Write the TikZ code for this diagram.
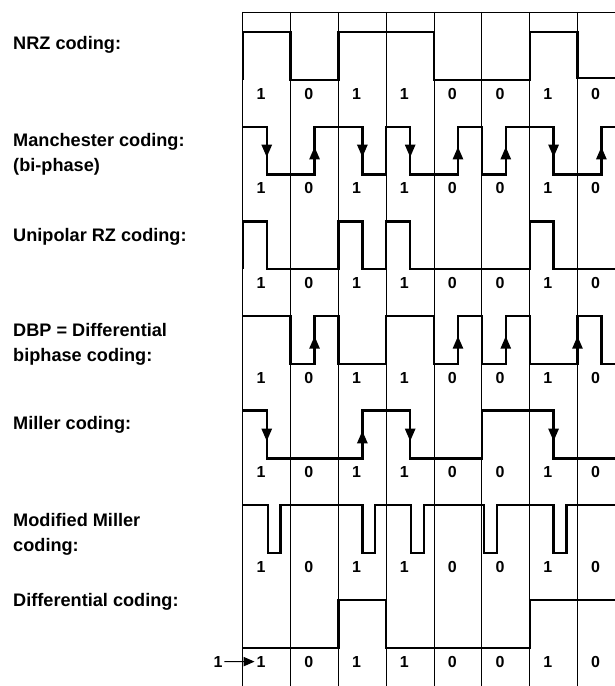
\documentclass[tikz,border=0pt]{standalone}
\usepackage{fontspec}
\setmainfont{Liberation Sans}
\usetikzlibrary{arrows.meta}
\begin{document}
\begin{tikzpicture}[
	sig/.style={line width=1.4pt},
	flow/.style={line width=1.4pt, -{Triangle[length=7.5pt,width=6pt]}},
	cell/.style={line width=0.5pt},
	bitlabel/.style={font=\fontsize{9.5}{10}\selectfont\bfseries, inner sep=1pt},
	codename/.style={anchor=west, align=left, inner sep=0pt,
		font=\fontsize{10.8}{15}\selectfont\bfseries}]
		\useasboundingbox (-5.08,-14.1) rectangle (7.78,0.25);
		%draw bit cells
		\draw [cell] (0,0) -- (7.78,0);
		\foreach \i in {0,...,7}
			\draw [cell] (\i,0) -- (\i,-14.1);
		%draw bit values
		\foreach \r in {0,...,6}
			\foreach \b [count=\i from 0] in {1,0,1,1,0,0,1,0}
				\node [bitlabel] (b\r-\i) at (\i+0.38,-1.71-1.98*\r) {\b};
		%draw codes
		\begin{scope}[yshift=-0.42cm] % NRZ
			\draw [sig] (0,-1) -- (0,0) -- (1,0) -- (1,-1) -- (2,-1) -- (2,0) -- (4,0) -- (4,-1)
				-- (6,-1) -- (6,0) -- (7,0) -- (7,-0.96) -- (7.78,-0.96);
		\end{scope}
		\begin{scope}[yshift=-2.40cm] % Manchester
			\draw [sig] (0,0) -- (0.5,0) -- (0.5,-1) -- (1.5,-1) -- (1.5,0) -- (2.5,0) -- (2.5,-1)
				-- (3,-1) -- (3,0) -- (3.5,0) -- (3.5,-1) -- (4.5,-1) -- (4.5,0) -- (5,0) -- (5,-1)
				-- (5.5,-1) -- (5.5,0) -- (6.5,0) -- (6.5,-1) -- (7.5,-1) -- (7.5,0) -- (7.78,0);
			\foreach \x in {0.5,2.5,3.5,6.5}
				\draw [flow] (\x,0) -- (\x,-0.64);
			\foreach \x in {1.5,4.5,5.5,7.5}
				\draw [flow] (\x,-1) -- (\x,-0.42);
		\end{scope}
		\begin{scope}[yshift=-4.38cm] % unipolar RZ
			\draw [sig] (0,-1) -- (0,0) -- (0.5,0) -- (0.5,-1) -- (2,-1) -- (2,0) -- (2.5,0) -- (2.5,-1)
				-- (3,-1) -- (3,0) -- (3.5,0) -- (3.5,-1) -- (6,-1) -- (6,0) -- (6.5,0) -- (6.5,-1)
				-- (7.78,-1);
		\end{scope}
		\begin{scope}[yshift=-6.36cm] % DBP
			\draw [sig] (0,0) -- (1,0) -- (1,-1) -- (1.5,-1) -- (1.5,0) -- (2,0) -- (2,-1) -- (3,-1)
				-- (3,0) -- (4,0) -- (4,-1) -- (4.5,-1) -- (4.5,0) -- (5,0) -- (5,-1) -- (5.5,-1)
				-- (5.5,0) -- (6,0) -- (6,-1) -- (7,-1) -- (7,0) -- (7.5,0) -- (7.5,-1) -- (7.78,-1);
			\foreach \x in {1.5,4.5,5.5,7}
				\draw [flow] (\x,-1) -- (\x,-0.42);
		\end{scope}
		\begin{scope}[yshift=-8.34cm] % Miller
			\draw [sig] (0,0) -- (0.5,0) -- (0.5,-1) -- (2.5,-1) -- (2.5,0) -- (3.5,0) -- (3.5,-1)
				-- (5,-1) -- (5,0) -- (6.5,0) -- (6.5,-1) -- (7.78,-1);
			\foreach \x in {0.5,3.5,6.5}
				\draw [flow] (\x,0) -- (\x,-0.64);
			\draw [flow] (2.5,-1) -- (2.5,-0.42);
		\end{scope}
		\begin{scope}[yshift=-10.32cm] % modified Miller
			\draw [sig] (0,0)
				\foreach \x in {0.52,2.5,3.52,5.05,6.5} { -- (\x,0) -- (\x,-1) -- (\x+0.27,-1) -- (\x+0.27,0) }
				-- (7.78,0);
		\end{scope}
		\begin{scope}[yshift=-12.30cm] % differential
			\draw [sig] (0,-1) -- (2,-1) -- (2,0) -- (3,0) -- (3,-1) -- (6,-1) -- (6,0) -- (7.78,0);
		\end{scope}
		%draw labels
		\node [codename] (nrz) at (-4.81,-0.69) {NRZ coding:};
		\node [codename] (man) at (-4.81,-2.97) {Manchester coding:\\(bi-phase)};
		\node [codename] (rz) at (-4.81,-4.71) {Unipolar RZ coding:};
		\node [codename] (dbp) at (-4.81,-6.96) {DBP = Differential\\biphase coding:};
		\node [codename] (mil) at (-4.81,-8.64) {Miller coding:};
		\node [codename] (mmil) at (-4.81,-10.93) {Modified Miller\\coding:};
		\node [codename] (dif) at (-4.81,-12.34) {Differential coding:};
		\node [bitlabel] (start) at (-0.52,-13.59) {1};
		\draw [line width=0.6pt, -{Triangle[length=6.5pt,width=5.5pt]}] (start) -- (b6-0);
	\end{tikzpicture}
\end{document}
